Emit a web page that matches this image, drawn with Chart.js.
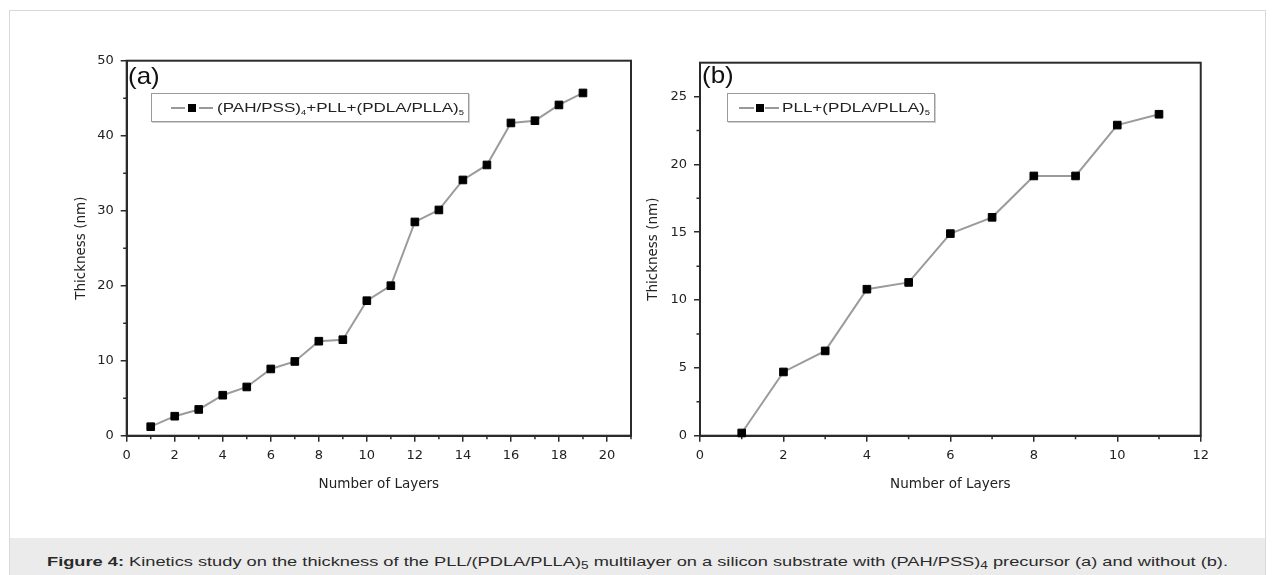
<!DOCTYPE html>
<html>
<head>
<meta charset="utf-8">
<script src="https://cdn.jsdelivr.net/npm/chart.js@4.4.1/dist/chart.umd.min.js"></script>
<style>
  body { margin: 0; width: 1275px; height: 575px; overflow: hidden; position: relative; background: #fff;
         font-family: "Liberation Sans", Arial, sans-serif; color: #333; }
  #frame { position: absolute; left: 9px; top: 10px; width: 1257px; height: 600px; border: 1px solid #d9d9d9; box-sizing: border-box; }
  #band { position: absolute; left: 10px; top: 538px; width: 1255px; height: 60px; background: #ebebeb; }
  #caption { position: absolute; left: 47px; top: 554px; font-size: 13.5px; line-height: 16px; white-space: nowrap; transform-origin: 0 0; color: #2a2a2a; }
  canvas { position: absolute; top: 40px; }
  .panel { position: absolute; font-size: 24px; line-height: 24px; color: #111; transform-origin: 0 0; }
  .legend { position: absolute; border: 1px solid #9a9a9a; box-shadow: 1px 1px 0 #cfcfcf; background: #fff; box-sizing: border-box; }
  .legend .ln { position: absolute; top: 13px; height: 2px; background: #999; }
  .legend .mk { position: absolute; top: 10px; width: 8px; height: 8px; background: #000; }
  .legend .tx { position: absolute; top: 5px; font-size: 13.5px; line-height: 17px; white-space: nowrap; color: #222; transform-origin: 0 0; }
  .legend sub { font-size: 55%; vertical-align: -3px; }
  #caption sub { font-size: 75%; vertical-align: -3px; }
</style>
</head>
<body>
<div id="frame"></div>
<div id="band"></div>
<div id="caption" data-w="1181"><b>Figure 4:</b> Kinetics study on the thickness of the PLL/(PDLA/PLLA)<sub>5</sub> multilayer on a silicon substrate with (PAH/PSS)<sub>4</sub> precursor (a) and without (b).</div>

<canvas id="chartA" width="600" height="470" style="left:40px"></canvas>
<canvas id="chartB" width="600" height="470" style="left:615px"></canvas>

<div class="panel" style="left:128px;top:64px">(a)</div>
<div class="panel" style="left:702px;top:63px">(b)</div>

<div class="legend" style="left:151px;top:93px;width:318px;height:29px">
  <span class="ln" style="left:19px;width:14px"></span>
  <span class="mk" style="left:36px"></span>
  <span class="ln" style="left:47px;width:14px"></span>
  <span class="tx" style="left:65px" data-w="247">(PAH/PSS)<sub>4</sub>+PLL+(PDLA/PLLA)<sub>5</sub></span>
</div>
<div class="legend" style="left:727px;top:93px;width:208px;height:29px">
  <span class="ln" style="left:11px;width:15px"></span>
  <span class="mk" style="left:28px"></span>
  <span class="ln" style="left:37px;width:14px"></span>
  <span class="tx" style="left:54px" data-w="148">PLL+(PDLA/PLLA)<sub>5</sub></span>
</div>

<script>
// --- data ---
const layersA = [1, 2, 3, 4, 5, 6, 7, 8, 9, 10, 11, 12, 13, 14, 15, 16, 17, 18, 19];
const thicknessA = [1.2, 2.6, 3.5, 5.4, 6.5, 8.9, 9.9, 12.6, 12.8, 18.0, 20.0, 28.5, 30.1, 34.1, 36.1, 41.7, 42.0, 44.1, 45.7];

const layersB = [1, 2, 3, 4, 5, 6, 7, 8, 9, 10, 11];
const thicknessB = [0.2, 4.7, 6.25, 10.8, 11.3, 14.9, 16.1, 19.15, 19.15, 22.9, 23.7];

// minor tick positions (unlabelled)
const minorXA = [1, 3, 5, 7, 9, 11, 13, 15, 17, 19, 21];
const minorYA = [5, 15, 25, 35, 45];
const minorXB = [1, 3, 5, 7, 9, 11];
const minorYB = [2.5, 7.5, 12.5, 17.5, 22.5];

const INK = '#2b2b2b';
const TXT = '#222';

// stretch html text to the measured widths of the figure
document.querySelectorAll('[data-w]').forEach(el => {
    const w = el.getBoundingClientRect().width;
    el.style.transform = `scaleX(${el.dataset.w / w})`;
});
document.querySelectorAll('.panel').forEach(el => el.style.transform = 'scaleX(1.08)');

// frame on all four sides + short minor ticks
const frameAndMinor = {
    id: 'frameAndMinor',
    beforeDatasetsDraw(chart, args, opts) {
        const { ctx, chartArea: a, scales: { x, y } } = chart;
        ctx.save();
        ctx.strokeStyle = INK;
        ctx.lineWidth = 1.5;
        ctx.beginPath();
        opts.x.forEach(v => {
            const px = x.getPixelForValue(v);
            ctx.moveTo(px, a.bottom);
            ctx.lineTo(px, a.bottom + 3.5);
        });
        opts.y.forEach(v => {
            const py = y.getPixelForValue(v);
            ctx.moveTo(a.left, py);
            ctx.lineTo(a.left - 3.5, py);
        });
        ctx.stroke();
        ctx.lineWidth = 2;
        ctx.strokeRect(a.left, a.top, a.right - a.left, a.bottom - a.top);
        ctx.restore();
    }
};

function makeChart(id, xs, ys, opt) {
    return new Chart(document.getElementById(id), {
        type: 'scatter',
        data: {
            datasets: [{
                data: xs.map((x, i) => ({ x, y: ys[i] })),
                showLine: true,
                borderColor: '#9b9b9b',
                borderWidth: 2,
                pointStyle: 'rect',
                pointRadius: 5.4,
                pointBackgroundColor: '#000',
                pointBorderColor: '#000',
                pointBorderWidth: 1,
                clip: false
            }]
        },
        plugins: [frameAndMinor],
        options: {
            responsive: false,
            animation: false,
            events: [],
            layout: { padding: opt.padding },
            plugins: {
                legend: { display: false },
                tooltip: { enabled: false },
                frameAndMinor: { x: opt.minorX, y: opt.minorY }
            },
            scales: {
                x: {
                    type: 'linear', min: 0, max: opt.xMax,
                    afterFit: s => { s.height = 64; },
                    ticks: { stepSize: 2, includeBounds: false, padding: 6, color: TXT,
                             font: { family: 'DejaVu Sans', size: 13 } },
                    grid: { drawOnChartArea: false, tickLength: 6, color: INK, lineWidth: 1.5 },
                    border: { color: INK, width: 2 },
                    title: { display: true, text: 'Number of Layers', color: TXT,
                             font: { family: 'DejaVu Sans', size: 13.5 }, padding: { top: 0, bottom: 7 } }
                },
                y: {
                    type: 'linear', min: 0, max: opt.yMax,
                    afterFit: s => { s.width = opt.yWidth; },
                    ticks: { stepSize: opt.yStep, includeBounds: false, padding: 7, color: TXT,
                             font: { family: 'DejaVu Sans', size: 13 } },
                    grid: { drawOnChartArea: false, tickLength: 6, color: INK, lineWidth: 1.5 },
                    border: { color: INK, width: 2 },
                    title: { display: true, text: 'Thickness (nm)', color: TXT,
                             font: { family: 'DejaVu Sans', size: 13.5 }, padding: { top: opt.yTitlePad, bottom: 0 } }
                }
            }
        }
    });
}

makeChart('chartA', layersA, thicknessA, {
    xMax: 21, yMax: 50, yStep: 10, yWidth: 86.7, yTitlePad: 33,
    padding: { left: 0, top: 20.7, right: 9, bottom: 10.3 },
    minorX: minorXA, minorY: minorYA
});

makeChart('chartB', layersB, thicknessB, {
    xMax: 12, yMax: 27.5, yStep: 5, yWidth: 85, yTitlePad: 30,
    padding: { left: 0, top: 22.7, right: 10, bottom: 10.3 },
    minorX: minorXB, minorY: minorYB
});
</script>
</body>
</html>
